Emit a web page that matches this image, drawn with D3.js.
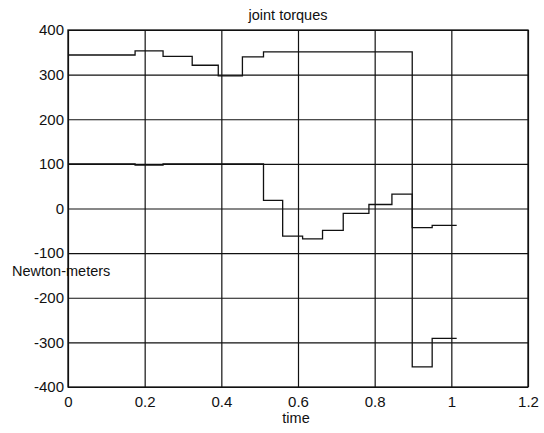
<!DOCTYPE html>
<html>
<head>
<meta charset="utf-8">
<script src="https://cdn.jsdelivr.net/npm/d3@7/dist/d3.min.js"></script>
<style>
  html, body { margin: 0; padding: 0; background: #fff; }
  svg { display: block; }
  text { font-family: "Liberation Sans", Arial, Helvetica, sans-serif; fill: #111; }
</style>
</head>
<body>
<svg id="chart" width="544" height="433"></svg>
<script>
// ---- data ----
const times   = [0, 0.175, 0.248, 0.324, 0.392, 0.455, 0.51, 0.56, 0.612, 0.664, 0.718, 0.785, 0.845, 0.898, 0.95, 1.014];
const torque1 = [344, 353, 341, 321, 297, 340, 351, 351, 351, 351, 351, 351, 351, -355, -291, -291];
const torque2 = [100, 97, 100, 100, 100, 100, 18, -62, -68, -49, -11, 9, 32, -43, -38, -38];
const xTicks = [0, 0.2, 0.4, 0.6, 0.8, 1, 1.2];
const xTickLabels = ["0", "0.2", "0.4", "0.6", "0.8", "1", "1.2"];
const yTicks = [-400, -300, -200, -100, 0, 100, 200, 300, 400];
const yTickLabels = ["-400", "-300", "-200", "-100", "0", "100", "200", "300", "400"];
const title = "joint torques";
const xLabel = "time";
const yLabel = "Newton-meters";

// ---- layout ----
const svg = d3.select("#chart");
const pL = 68, pR = 528, pT = 30, pB = 387;
const x = d3.scaleLinear().domain([0, 1.2]).range([pL, pR]);
const y = d3.scaleLinear().domain([-400, 400]).range([pB, pT]);
const ink = "#111";

// grid + x axis
const gx = svg.append("g").attr("transform", `translate(0,${pB})`)
  .call(d3.axisBottom(x).tickValues(xTicks)
    .tickSize(-(pB - pT)).tickPadding(9)
    .tickFormat((d, i) => xTickLabels[i]));
gx.select(".domain").remove();
gx.selectAll("line").attr("stroke", ink).attr("stroke-width", 1.2);
gx.selectAll("text").attr("font-size", 15).attr("fill", ink)
  .attr("font-family", "Liberation Sans, Arial, sans-serif");

const gy = svg.append("g").attr("transform", `translate(${pL},0)`)
  .call(d3.axisLeft(y).tickValues(yTicks)
    .tickSize(-(pR - pL)).tickPadding(4)
    .tickFormat((d, i) => yTickLabels[i]));
gy.select(".domain").remove();
gy.selectAll("line").attr("stroke", ink).attr("stroke-width", 1.2);
gy.selectAll("text").attr("font-size", 15).attr("fill", ink)
  .attr("font-family", "Liberation Sans, Arial, sans-serif");

// frame
svg.append("rect").attr("x", pL).attr("y", pT)
  .attr("width", pR - pL).attr("height", pB - pT)
  .attr("fill", "none").attr("stroke", ink).attr("stroke-width", 1.3);

// series
const line = d3.line().curve(d3.curveStepAfter).x(d => x(d[0])).y(d => y(d[1]));
[torque1, torque2].forEach(vals => {
  svg.append("path")
    .datum(times.map((t, i) => [t, vals[i]]))
    .attr("d", line)
    .attr("fill", "none").attr("stroke", ink).attr("stroke-width", 1.3);
});

// labels
svg.append("text").attr("x", 288).attr("y", 20).attr("text-anchor", "middle")
  .attr("font-size", 14.5).text(title);
svg.append("text").attr("x", 296).attr("y", 423).attr("text-anchor", "middle")
  .attr("font-size", 14.5).text(xLabel);
svg.append("text").attr("x", 12).attr("y", 276).attr("text-anchor", "start")
  .attr("font-size", 14.5).text(yLabel);
</script>
</body>
</html>
